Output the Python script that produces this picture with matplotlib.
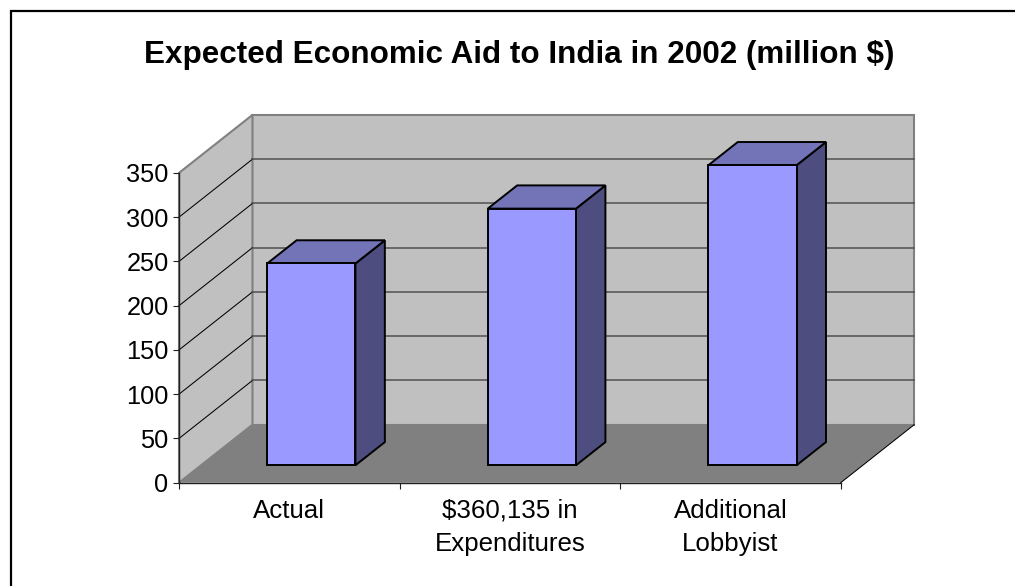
import numpy as np
import matplotlib
matplotlib.use('Agg')
import matplotlib.pyplot as plt
from matplotlib.lines import Line2D
from matplotlib.patches import Polygon

plt.rcParams['font.family'] = ['Liberation Sans', 'DejaVu Sans']

categories = ['Actual', '$360,135 in\nExpenditures', 'Additional\nLobbyist']
aid = [228, 290, 339]
yticks = [0, 50, 100, 150, 200, 250, 300, 350]
title = 'Expected Economic Aid to India in 2002 (million $)'

W, H = 1015, 586
# oblique offset of the full floor depth, in data units
DX = 73.5 / 220.6
DY = 58 / 0.885
YMAX = 350


def proj(x, y, z):
    return (x + z * DX, y + z * DY)


def face(ax, pts, color, ec='k', lw=1.4, z=3):
    ax.add_patch(Polygon(pts, closed=True, facecolor=color, edgecolor=ec, lw=lw,
                         joinstyle='miter', clip_on=False, zorder=z))


fig = plt.figure(figsize=(W / 100, H / 100), dpi=100, facecolor='white')

# border runs along the top and left only
fig.add_artist(Line2D([10.5 / W, 10.5 / W, 1], [0, 1 - 11 / H, 1 - 11 / H], color='k', lw=1.6,
                      solid_joinstyle='miter'))

ax = fig.add_axes([179 / W, 1 - 482.7 / H, 661.7 / W, 309.8 / H])
ax.set_xlim(-0.5, 2.5)
ax.set_ylim(0, YMAX)
ax.patch.set_visible(False)

# walls and floor
x0, x1 = -0.5, 2.5
face(ax, [proj(x0, 0, 1), proj(x1, 0, 1), proj(x1, YMAX, 1), proj(x0, YMAX, 1)], '#c0c0c0', ec='#808080', lw=1.5, z=1)
face(ax, [proj(x0, 0, 0), proj(x0, 0, 1), proj(x0, YMAX, 1), proj(x0, YMAX, 0)], '#c0c0c0', ec='#808080', lw=1.5, z=1)
face(ax, [proj(x0, 0, 0), proj(x1, 0, 0), proj(x1, 0, 1), proj(x0, 0, 1)], '#808080', ec='none', lw=0, z=1.2)

# gridlines on the back and side walls
for v in yticks[1:-1]:
    ax.plot(*zip(proj(x0, v, 0), proj(x0, v, 1)), color='k', lw=0.75, clip_on=False, zorder=1.5)
    ax.plot(*zip(proj(x0, v, 1), proj(x1, v, 1)), color='#505050', lw=1.1, clip_on=False, zorder=1.5)
ax.plot(*zip(proj(x1, 0, 0), proj(x1, 0, 1)), color='k', lw=0.75, clip_on=False, zorder=1.5)

# 3d bars: front face through bar(), side and top as polygons
bw = 0.4
zf, zb = 0.3, 0.7
pos = np.arange(len(categories))
for xc, v in zip(pos, aid):
    l, r = xc - bw / 2, xc + bw / 2
    face(ax, [proj(r, 0, zf), proj(r, 0, zb), proj(r, v, zb), proj(r, v, zf)], '#4d4d80', z=3)
    face(ax, [proj(l, v, zf), proj(r, v, zf), proj(r, v, zb), proj(l, v, zb)], '#7373b8', z=3)
    fx, fy = proj(l, 0, zf)
    ax.bar(fx, v, bw, bottom=fy, align='edge', color='#9999ff', edgecolor='k', lw=1.4, zorder=4, clip_on=False)

for s in ('top', 'right'):
    ax.spines[s].set_visible(False)
for s in ('left', 'bottom'):
    ax.spines[s].set_color('#202020')
    ax.spines[s].set_linewidth(1.0)
    ax.spines[s].set_zorder(5)

ax.set_yticks(yticks)
ax.tick_params(axis='y', length=4.3, width=0.8, labelsize=18.3, pad=3.2, color='#202020')
ax.set_xticks(np.arange(-0.5, 3, 1))
ax.set_xticklabels([])
ax.tick_params(axis='x', which='major', length=4.3, width=0.8, color='#202020')
ax.set_xticks(pos, minor=True)
ax.set_xticklabels(categories, minor=True, fontsize=18.6, linespacing=1.5)
ax.tick_params(axis='x', which='minor', length=0, pad=11.5)

fig.text(519 / W, 1 - 63 / H, title, ha='center', va='baseline', fontsize=22.6, fontweight='bold')

fig.savefig('out.png', dpi=100)
